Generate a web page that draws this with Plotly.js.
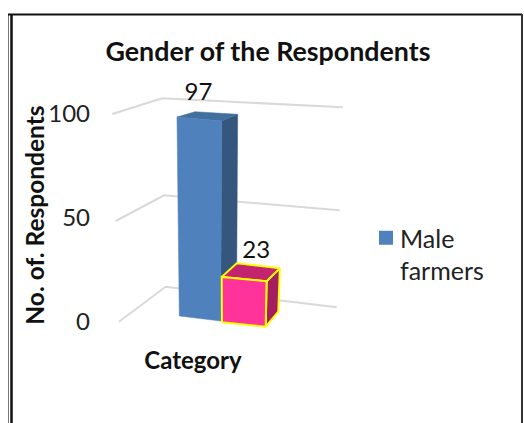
<!DOCTYPE html>
<html><head><meta charset="utf-8">
<script src="https://cdn.plot.ly/plotly-3.0.1.min.js"></script>
<style>html,body{margin:0;padding:0;background:#fff;overflow:hidden}</style>
</head><body><div id="chart" style="width:524px;height:423px"></div>
<script>
// ---- data ----
const chartTitle = 'Gender of the Respondents';
const yTitle = 'No. of. Respondents';
const xTitle = 'Category';
const legendName = 'Male<br>farmers';
const tickValues = [0, 50, 100];
const barValues = [97, 23];

// ---- oblique view geometry (figure pixels) ----
const W = 524, H = 423, M = {l:0, r:138, t:80, b:73};
const plotW = W - M.l - M.r, plotH = H - M.t - M.b;
const yPerPx = 1 / 2.08, y0Px = 322;
const pxToVal = p => (y0Px - p) * yPerPx;
const persp = v => v / (v + 1.0625 * (100 - v));

// wall corners: [x,y] at value 0 and rise to value 100
const wall = [
  {x:119, y:321.7, h:207.7, dx:-6.7},
  {x:165.7, y:286.7, h:188.4, dx:-3.4},
  {x:336.7, y:307.3, h:200, dx:6}
];
// bar footprints: front-left, front-right, back-right, back-left
const footprints = [
  [{x:179.3,y:316,h:205.5,dx:-2.4},{x:220.7,y:321,h:206.5,dx:1},{x:236.5,y:306,h:198,dx:1.2},{x:196,y:303.4,h:198,dx:-1}],
  [{x:222,y:322.3,h:207,dx:-1},{x:265.7,y:326.7,h:207,dx:4},{x:278.3,y:311.7,h:197.7,dx:7},{x:236.7,y:306.7,h:197.7,dx:0}]
];
const barStyles = [
  {front:'#4f81bd', side:'#35567d', top:'#41709f', line:null},
  {front:'#ff3399', side:'#a31f60', top:'#c2246f', line:'#ffff00'}
];
const labelAnchor = [{dx:3.5, dy:-6},{dx:19.5, dy:1}];

const proj = (c, v) => {
  const f = persp(v);
  return [c.x + c.dx * f, pxToVal(c.y - c.h * f)];
};
const poly = (pts, color, line, name) => ({
  type:'scatter', mode:'lines', fill:'toself', fillcolor:color,
  x:pts.concat([pts[0]]).map(p => p[0]), y:pts.concat([pts[0]]).map(p => p[1]),
  line:{color:line || color, width:line ? 2 : 0.5, shape:'linear'},
  showlegend:false, hoverinfo:'skip', name:name
});

const traces = [];
tickValues.forEach(v => {
  const pts = wall.map(c => proj(c, v));
  traces.push({type:'scatter', mode:'lines', x:pts.map(p=>p[0]), y:pts.map(p=>p[1]),
    line:{color:'#d9d9d9', width:2}, showlegend:false, hoverinfo:'skip'});
});
barValues.forEach((val, i) => {
  const fp = footprints[i], s = barStyles[i];
  const b = fp.map(c => proj(c, 0)), t = fp.map(c => proj(c, val));
  traces.push(poly([b[1], b[2], t[2], t[1]], s.side, s.line));
  traces.push(poly([t[0], t[1], t[2], t[3]], s.top, s.line));
  traces.push(poly([b[0], b[1], t[1], t[0]], s.front, s.line));
});
traces.push({
  type:'scatter', mode:'text',
  x:barValues.map((v,i) => proj(footprints[i][3], v)[0] + labelAnchor[i].dx),
  y:barValues.map((v,i) => proj(footprints[i][3], v)[1] - labelAnchor[i].dy * yPerPx),
  text:barValues.map(String), textposition:'top center', cliponaxis:false,
  textfont:{family:'Lato', size:24, color:'#111'}, showlegend:false, hoverinfo:'skip'
});
traces.push({type:'scatter', mode:'markers', x:[null], y:[null], name:legendName,
  marker:{symbol:'square', size:14, color:'#4f81bd'}, showlegend:true, hoverinfo:'skip'});

const pxX = p => (p - M.l) / plotW;
const pxY = p => 1 - (p - M.t) / plotH;
const frameLine = (x0,y0,x1,y1,w,c) => ({type:'line', xref:'paper', yref:'paper',
  x0:pxX(x0), x1:pxX(x1), y0:pxY(y0), y1:pxY(y1), line:{color:c, width:w}, layer:'above'});

const layout = {
  width:W, height:H, margin:M, paper_bgcolor:'#fff', plot_bgcolor:'#fff',
  title:{text:'<b>'+chartTitle+'</b>', font:{family:'Lato', size:26.8, color:'#111'},
    x:268/W, xref:'container', xanchor:'center', y:1-52/H, yref:'container', yanchor:'middle'},
  xaxis:{range:[0, plotW], showticklabels:false, showgrid:false, zeroline:false, showline:false, ticks:'',
    title:{text:'<b>'+xTitle+'</b>', font:{family:'Lato', size:24, color:'#111'}, standoff:2}},
  yaxis:{range:[pxToVal(M.t + plotH), pxToVal(M.t)], tickvals:tickValues, anchor:'free', position:90/plotW,
    showgrid:false, zeroline:false, showline:false, ticks:'', ticklen:0,
    tickfont:{family:'Lato', size:24, color:'#222'},
    title:{text:'<b>'+yTitle+'</b>', font:{family:'Lato', size:24.5, color:'#111'}, standoff:0}},
  legend:{x:pxX(360), y:pxY(215), xanchor:'left', yanchor:'top', bgcolor:'rgba(0,0,0,0)', valign:'top',
    font:{family:'Lato', size:25, color:'#222'}, itemwidth:30},
  shapes:[
    frameLine(8.5,14,8.5,H,1,'#777'),
    frameLine(11.5,14,11.5,H,2.5,'#111'),
    frameLine(8,14.5,522,14.5,2,'#111'),
    frameLine(522,14,522,H,2,'#333')
  ]
};
Plotly.newPlot('chart', traces, layout, {displayModeBar:false, staticPlot:true}).then(gd => {
  const sym = gd.querySelector('.legendsymbols');
  if (sym) sym.setAttribute('transform', 'translate(6,0)');
  const yt = gd.querySelector('.ytitle');
  if (yt) yt.setAttribute('transform', 'translate(5,0) ' + (yt.getAttribute('transform') || ''));
});
</script></body></html>
